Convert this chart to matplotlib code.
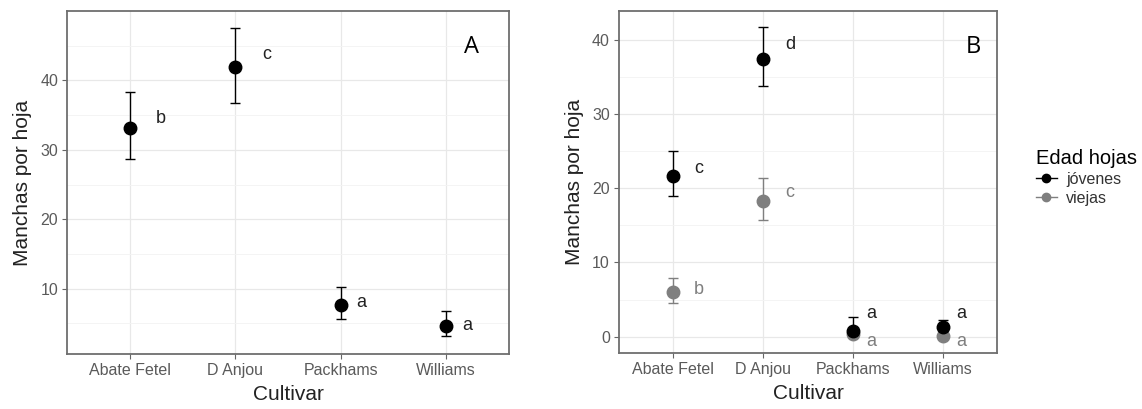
import numpy as np
import matplotlib.pyplot as plt
from matplotlib.lines import Line2D

plt.rcParams['font.family'] = ['Liberation Sans', 'DejaVu Sans']

cultivares = ['Abate Fetel', 'D Anjou', 'Packhams', 'Williams']

# Panel A: todas las hojas
a_media = [33.2, 42.0, 7.7, 4.6]
a_inf = [28.7, 36.8, 5.7, 3.2]
a_sup = [38.3, 47.5, 10.2, 6.8]
a_letras = ['b', 'c', 'a', 'a']
a_letras_y = [34.5, 43.7, 8.0, 4.7]

# Panel B: por edad de hojas
jov_media = [21.7, 37.5, 0.7, 1.3]
jov_inf = [19.0, 33.8, 0.2, 0.5]
jov_sup = [25.0, 41.8, 2.6, 2.2]
jov_letras = ['c', 'd', 'a', 'a']
jov_letras_y = [22.7, 39.4, 3.1, 3.1]

vie_media = [6.0, 18.3, 0.3, 0.1]
vie_inf = [4.5, 15.7, 0.0, 0.0]
vie_sup = [7.9, 21.4, 0.6, 0.4]
vie_letras = ['b', 'c', 'a', 'a']
vie_letras_y = [6.4, 19.4, -0.6, -0.6]

gris = '#7f7f7f'
x = np.arange(1, 5)
dx = [0.29, 0.3, 0.2, 0.2]


def estilo(ax, ylim, mayores, menores):
    ax.set_xlim(0.4, 4.6)
    ax.set_ylim(*ylim)
    ax.set_xticks(x)
    ax.set_xticklabels(cultivares)
    ax.set_yticks(mayores)
    ax.set_yticks(menores, minor=True)
    ax.grid(True, which='major', color='#e8e8e8', lw=0.9)
    ax.grid(True, which='minor', axis='y', color='#f3f3f3', lw=0.6)
    ax.set_axisbelow(True)
    ax.tick_params(which='major', length=3.5, width=0.8, color='#666666',
                   labelcolor='#5a5a5a', labelsize=11.5, pad=3)
    ax.tick_params(which='minor', length=0)
    for s in ax.spines.values():
        s.set_color('#6e6e6e')
        s.set_linewidth(1.3)
    ax.set_xlabel('Cultivar', fontsize=15, color='#222222', labelpad=5)
    ax.set_ylabel('Manchas por hoja', fontsize=15, color='#222222', labelpad=6)


def puntos(ax, media, inf, sup, color):
    media = np.array(media)
    err = [media - np.array(inf), np.array(sup) - media]
    ax.errorbar(x, media, yerr=err, fmt='o', color=color, ms=9, capsize=3.6,
                elinewidth=1.0, capthick=1.0, zorder=3)


fig = plt.figure(figsize=(11.42, 4.09), dpi=100)
ax1 = fig.add_axes([0.0587, 0.1345, 0.387, 0.8386])
ax2 = fig.add_axes([0.542, 0.137, 0.331, 0.836])

# A
puntos(ax1, a_media, a_inf, a_sup, 'black')
for i in range(4):
    ax1.text(x[i] + dx[i], a_letras_y[i], a_letras[i], fontsize=13,
             color='#222222', ha='center', va='center')
estilo(ax1, (0.6, 50), [10, 20, 30, 40], [5, 15, 25, 35, 45])
ax1.text(0.915, 0.895, 'A', transform=ax1.transAxes, fontsize=17,
         ha='center', va='center', family=['Open Sans', 'DejaVu Sans'])

# B
puntos(ax2, vie_media, vie_inf, vie_sup, gris)
puntos(ax2, jov_media, jov_inf, jov_sup, 'black')
for i in range(4):
    ax2.text(x[i] + dx[i], jov_letras_y[i], jov_letras[i], fontsize=13,
             color='#222222', ha='center', va='center')
    ax2.text(x[i] + dx[i], vie_letras_y[i], vie_letras[i], fontsize=13,
             color=gris, ha='center', va='center')
estilo(ax2, (-2.2, 43.9), [0, 10, 20, 30, 40], [5, 15, 25, 35])
ax2.text(0.937, 0.895, 'B', transform=ax2.transAxes, fontsize=17,
         ha='center', va='center', family=['Open Sans', 'DejaVu Sans'])

manejadores = [Line2D([], [], color='black', marker='o', ms=6, lw=1.0),
               Line2D([], [], color=gris, marker='o', ms=6, lw=1.0)]
leg = fig.legend(manejadores, ['jóvenes', 'viejas'], title='Edad hojas',
                 loc='upper left', bbox_to_anchor=(0.9, 0.655),
                 frameon=False, fontsize=11.5, title_fontsize=14.5,
                 handlelength=1.3, handletextpad=0.6, labelspacing=0.25,
                 borderpad=0)
leg._legend_box.align = 'left'
for t in leg.get_texts():
    t.set_color('#333333')

fig.savefig('out.png', dpi=100)
